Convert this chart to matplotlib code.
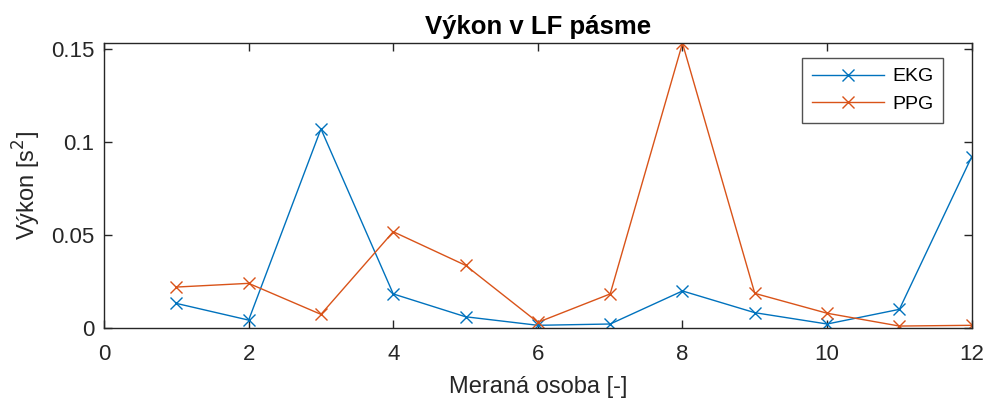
import matplotlib
matplotlib.use("Agg")
import matplotlib.pyplot as plt

plt.rcParams['font.family'] = ['Liberation Sans', 'DejaVu Sans']

x = [1, 2, 3, 4, 5, 6, 7, 8, 9, 10, 11, 12]
ekg = [0.0131, 0.0041, 0.1071, 0.0182, 0.0059, 0.0013, 0.0020, 0.0198, 0.0081, 0.0020, 0.0099, 0.0921]
ppg = [0.0219, 0.0239, 0.0072, 0.0517, 0.0336, 0.0029, 0.0182, 0.1532, 0.0185, 0.0078, 0.0009, 0.0013]
xticks = [0, 2, 4, 6, 8, 10, 12]
yticks = [0, 0.05, 0.1, 0.15]
ytick_labels = ['0', '0.05', '0.1', '0.15']

fig = plt.figure(figsize=(9.87, 4.03), dpi=100)
ax = fig.add_axes([0.1054, 0.1868, 0.8791, 0.7058])

ax.plot(x, ekg, color='#0072BD', marker='x', markersize=9, lw=1.0, label='EKG')
ax.plot(x, ppg, color='#D95319', marker='x', markersize=9, lw=1.0, label='PPG')

ax.set_xlim(0, 12)
ax.set_ylim(0, max(ppg))
ax.set_xticks(xticks)
ax.set_yticks(yticks)
ax.set_yticklabels(ytick_labels)
ax.tick_params(direction='in', length=6, width=1, labelsize=16, colors='#262626',
               top=True, right=True)
ax.tick_params(axis='x', pad=12)
ax.tick_params(axis='y', pad=7)
for s in ax.spines.values():
    s.set_color('#262626')
    s.set_linewidth(1)

ax.set_xlabel('Meraná osoba [-]', fontsize=17, color='#262626', labelpad=8)
ax.set_ylabel('Výkon [s$^2$]', fontsize=17, color='#262626', labelpad=6)
ax.set_title('Výkon v LF pásme', fontsize=18.5, fontweight='bold', pad=7)

leg = ax.legend(loc='upper right', bbox_to_anchor=(0.967, 0.948), fontsize=14,
                frameon=True, fancybox=False, edgecolor='#262626', borderaxespad=0,
                handlelength=3.7, handletextpad=0.43, labelspacing=0.52, borderpad=0.5)
leg.get_frame().set_linewidth(1)

fig.savefig('out.png', dpi=100)
